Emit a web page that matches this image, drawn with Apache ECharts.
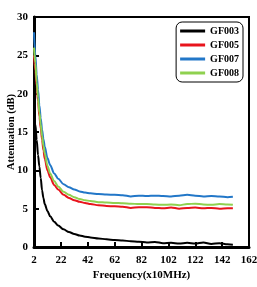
<!DOCTYPE html>
<html>
<head>
<meta charset="utf-8">
<script src="https://cdn.jsdelivr.net/npm/echarts@6/dist/echarts.min.js"></script>
<style>
html, body { margin: 0; padding: 0; background: #fff; }
#draw { width: 257px; height: 287px; }
</style>
</head>
<body>
<div id="draw"></div>
<script>
// frequency points (x10MHz)
var freq = [2, 3, 4, 5, 6, 7, 8, 9, 10, 12, 14, 17, 20, 24, 28, 32, 36, 40, 44, 50, 56, 62, 68, 74, 80, 86, 92, 98, 104, 110, 116, 122, 128, 134, 140, 146, 150];
var gf003 = [17, 16, 14, 12, 10.5, 9, 7.4, 6.4, 5.6, 4.7, 4.0, 3.3, 2.8, 2.3, 1.95, 1.7, 1.5, 1.35, 1.25, 1.12, 1.0, 0.9, 0.85, 0.75, 0.7, 0.6, 0.65, 0.5, 0.55, 0.45, 0.55, 0.45, 0.6, 0.4, 0.5, 0.35, 0.3];
var gf005 = [25, 23, 21, 19, 17, 15.5, 14, 12.6, 11.5, 10, 9.1, 8.1, 7.5, 6.8, 6.4, 6.1, 5.9, 5.75, 5.6, 5.45, 5.35, 5.3, 5.25, 5.1, 5.2, 5.2, 5.1, 5.05, 5.15, 5.0, 5.1, 5.15, 5.05, 5.1, 5.0, 5.05, 5.05];
var gf007 = [28, 25, 22.5, 20.5, 18.5, 16.8, 15.3, 14.1, 13.1, 11.6, 10.7, 9.6, 8.9, 8.2, 7.8, 7.5, 7.25, 7.1, 7.0, 6.9, 6.85, 6.8, 6.75, 6.6, 6.7, 6.65, 6.7, 6.65, 6.6, 6.7, 6.8, 6.7, 6.6, 6.65, 6.6, 6.5, 6.55];
var gf008 = [26, 24, 21.5, 19.5, 17.5, 16, 14.5, 13.2, 12.2, 10.6, 9.6, 8.6, 7.9, 7.2, 6.8, 6.5, 6.25, 6.1, 6.0, 5.85, 5.8, 5.75, 5.7, 5.65, 5.6, 5.6, 5.55, 5.5, 5.55, 5.45, 5.6, 5.65, 5.55, 5.5, 5.6, 5.55, 5.5];
var names = ['GF003', 'GF005', 'GF007', 'GF008'];
var colors = ['#000000', '#e8141c', '#2277c8', '#8fd14f'];

var myChart = echarts.init(document.getElementById('draw'));
var font = 'Liberation Serif';

function pairs(ys) {
	return freq.map(function(f, i) {
		return [f, ys[i]];
	});
}

var all = [gf003, gf005, gf007, gf008];
var series = all.map(function(ys, i) {
	return {
		name : names[i],
		type : 'line',
		data : pairs(ys),
		showSymbol : false,
		smooth : 0.3,
		smoothMonotone : 'x',
		lineStyle : { color : colors[i], width : 2 },
		itemStyle : { color : colors[i] },
		z : i == 0 ? 5 : 3
	};
});

option = {
	animation : false,
	grid : {
		left : 34,
		top : 17,
		right : 8,
		bottom : 40,
		outerBoundsMode : 'none',
		containLabel : false,
		show : true,
		borderColor : '#000',
		borderWidth : 2
	},
	legend : {
		data : names,
		orient : 'vertical',
		right : 14,
		top : 22,
		icon : 'rect',
		itemWidth : 25,
		itemHeight : 3,
		itemGap : 4,
		padding : [4, 4, 4, 4],
		borderColor : '#000',
		borderWidth : 1,
		borderRadius : 6,
		textStyle : { fontFamily : font, fontWeight : 'bold', fontSize : 10, color : '#000' }
	},
	xAxis : {
		type : 'value',
		min : 2,
		max : 162,
		interval : 20,
		name : 'Frequency(x10MHz)',
		nameLocation : 'middle',
		nameGap : 23,
		nameMoveOverlap : false,
		nameTextStyle : { fontFamily : font, fontWeight : 'bold', fontSize : 11, color : '#000' },
		axisLine : { lineStyle : { color : '#000', width : 3 } },
		axisTick : { inside : true, length : 5, lineStyle : { color : '#000', width : 2 } },
		axisLabel : { fontFamily : font, fontWeight : 'bold', fontSize : 11, color : '#000', margin : 8 },
		splitLine : { show : false }
	},
	yAxis : {
		type : 'value',
		min : 0,
		max : 30,
		interval : 5,
		name : 'Attenuation (dB)',
		nameLocation : 'middle',
		nameGap : 17,
		nameMoveOverlap : false,
		nameTextStyle : { fontFamily : font, fontWeight : 'bold', fontSize : 10.5, color : '#000' },
		axisLine : { lineStyle : { color : '#000', width : 3 } },
		axisTick : { inside : true, length : 5, lineStyle : { color : '#000', width : 2 } },
		axisLabel : { fontFamily : font, fontWeight : 'bold', fontSize : 11, color : '#000', margin : 6 },
		splitLine : { show : false }
	},
	series : series
};
myChart.setOption(option);
</script>
</body>
</html>
